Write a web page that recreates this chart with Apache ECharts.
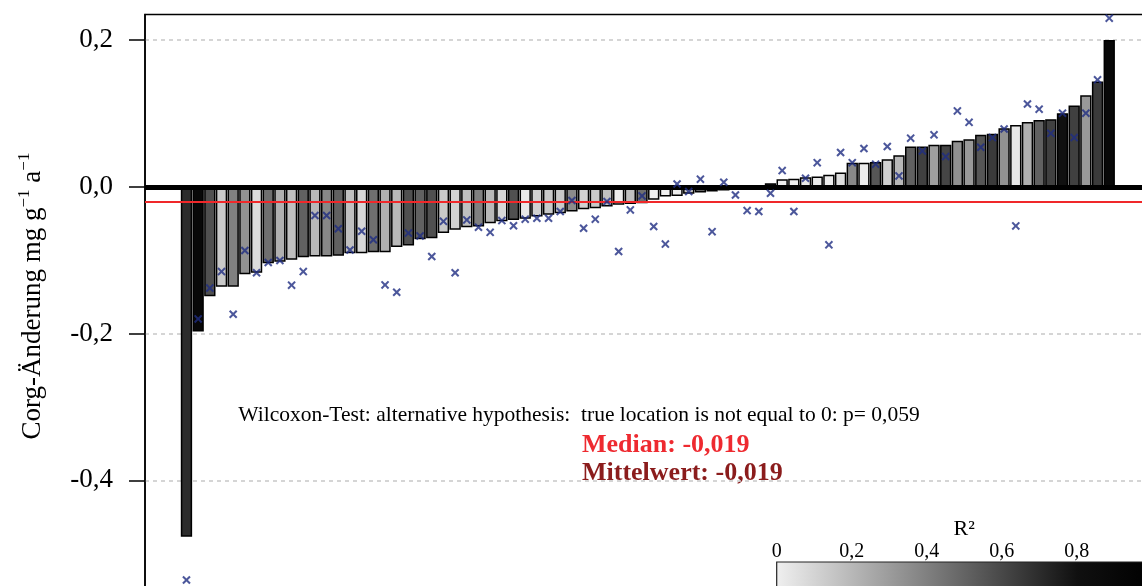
<!DOCTYPE html>
<html><head><meta charset="utf-8">
<script src="https://cdn.jsdelivr.net/npm/echarts@6/dist/echarts.min.js"></script>
<style>html,body{margin:0;padding:0;background:#fff}#c{width:1142px;height:586px}</style>
</head><body><div id="c"></div>
<script>
// Corg change per site (sorted), bars
const changeValues = [-0.477, -0.197, -0.149, -0.136, -0.136, -0.119, -0.117, -0.104, -0.102, -0.0995,
  -0.096, -0.095, -0.095, -0.094, -0.0905, -0.0905, -0.089, -0.089, -0.082, -0.080,
  -0.0713, -0.070, -0.063, -0.0586, -0.055, -0.054, -0.0495, -0.047, -0.045, -0.0436,
  -0.0405, -0.038, -0.0359, -0.0336, -0.0304, -0.029, -0.0268, -0.0245, -0.0235, -0.0222,
  -0.0177, -0.0132, -0.0123, -0.0095, -0.0077, -0.0064, -0.005, -0.0035, -0.0025, -0.0012,
  0.005, 0.0105, 0.011, 0.0132, 0.014, 0.0164, 0.0195, 0.033, 0.033, 0.034,
  0.0377, 0.0432, 0.055, 0.055, 0.0573, 0.0573, 0.063, 0.065, 0.0709, 0.0723,
  0.080, 0.0845, 0.0886, 0.0913, 0.0923, 0.1005, 0.111, 0.125, 0.1436, 0.2004];
// blue x markers
const markerValues = [-0.536, -0.180, -0.138, -0.1155, -0.1736, -0.0868, -0.117, -0.103, -0.1004, -0.134,
  -0.1155, -0.039, -0.039, -0.057, -0.086, -0.0604, -0.072, -0.1336, -0.1436, -0.063,
  -0.0668, -0.095, -0.047, -0.117, -0.045, -0.055, -0.062, -0.046, -0.053, -0.044,
  -0.0427, -0.0427, -0.0336, -0.0186, -0.0564, -0.044, -0.020, -0.088, -0.0314, -0.0123,
  -0.054, -0.078, 0.004, -0.0064, 0.0105, -0.061, 0.0064, -0.011, -0.0323, -0.0336,
  -0.0086, 0.0222, -0.0336, 0.0118, 0.033, -0.079, 0.0468, 0.033, 0.0523, 0.031,
  0.055, 0.015, 0.0664, 0.049, 0.0709, 0.0413, 0.1036, 0.088, 0.054, 0.0672,
  0.079, -0.0532, 0.113, 0.106, 0.073, 0.1005, 0.0672, 0.1005, 0.1459, 0.230];
// R² of each bar (fill shade)
const r2Values = [0.70, 0.90, 0.57, 0.14, 0.40, 0.34, 0.07, 0.46, 0.23, 0.17,
  0.51, 0.20, 0.37, 0.51, 0.17, 0.09, 0.46, 0.23, 0.20, 0.57,
  0.51, 0.57, 0.14, 0.11, 0.17, 0.40, 0.20, 0.09, 0.57, 0.03,
  0.11, 0.14, 0.14, 0.36, 0.11, 0.14, 0.17, 0.01, 0.17, 0.46,
  0.00, 0.00, 0.01, 0.17, 0.51, 0.63, 0.69, 0.69, 0.69, 0.75,
  0.71, 0.01, 0.01, 0.02, 0.02, 0.01, 0.06, 0.37, 0.01, 0.55,
  0.11, 0.20, 0.51, 0.63, 0.29, 0.61, 0.34, 0.31, 0.55, 0.65,
  0.34, 0.03, 0.23, 0.51, 0.63, 0.80, 0.63, 0.31, 0.65, 0.90];
const yTickValues = [-0.4, -0.2, 0, 0.2];
const colorbarTicks = [0, 0.2, 0.4, 0.6, 0.8, 1];
const medianValue = -0.019;
const meanValue = -0.019;
const pValueText = '0,059';
const grayStops = ['#f0f0f0', '#b8b8b8', '#808080', '#484848', '#101010', '#000000'];

const font = "'Liberation Serif','Times New Roman',serif";
const fmt1 = v => v.toFixed(1).replace('.', ',');
const fmt3 = v => v.toFixed(3).replace('.', ',');

const barData = changeValues.map((v, i) => [i, v, r2Values[i]]);
const markerData = markerValues.map((v, i) => [i, v]);

const chart = echarts.init(document.getElementById('c'), null, {renderer: 'canvas'});
const gradient = new echarts.graphic.LinearGradient(0, 0, 1, 0,
  grayStops.map((c, i) => ({offset: i / (grayStops.length - 1), color: c})));

const option = {
  backgroundColor: '#fff',
  animation: false,
  grid: [
    {left: 145, top: 14.5, width: 1005.7, height: 612.5, show: true, borderColor: '#000', borderWidth: 1.5,
      backgroundColor: 'transparent', outerBoundsMode: 'none', containLabel: false},
    {left: 776.7, top: 562, width: 375, height: 40, outerBoundsMode: 'none', containLabel: false}
  ],
  xAxis: [
    {type: 'value', gridIndex: 0, min: -3.55, max: 82.55, show: false, splitLine: {show: false}},
    {type: 'value', gridIndex: 1, min: colorbarTicks[0], max: colorbarTicks[colorbarTicks.length - 1], interval: 0.2,
      position: 'top', axisLine: {show: false}, axisTick: {show: false}, splitLine: {show: false},
      axisLabel: {formatter: v => (v % 1 === 0 ? String(v) : fmt1(v)), fontFamily: font, fontSize: 20, color: '#000', margin: 0},
      name: 'R²', nameLocation: 'middle', nameGap: 22,
      nameTextStyle: {fontFamily: font, fontSize: 22, color: '#000'}}
  ],
  yAxis: [
    {type: 'value', gridIndex: 0, min: -0.6, max: 0.235, interval: 0.2,
      axisLine: {show: true, onZero: false, lineStyle: {color: '#000', width: 1.5}},
      axisTick: {show: true, length: 16, lineStyle: {color: '#000', width: 1.5}, customValues: yTickValues},
      axisLabel: {customValues: yTickValues, formatter: fmt1, fontFamily: font, fontSize: 27, color: '#000', margin: 32},
      splitLine: {show: true, lineStyle: {color: '#c8c8c8', type: [4, 4], width: 1.5}}},
    {type: 'value', gridIndex: 1, min: 0, max: 1, show: false}
  ],
  visualMap: {type: 'continuous', show: false, seriesIndex: 0, dimension: 2, min: 0, max: 1, inRange: {color: grayStops}},
  series: [
    {type: 'bar', xAxisIndex: 0, yAxisIndex: 0, data: barData, encode: {x: 0, y: 1},
      barCategoryGap: '3%', itemStyle: {borderColor: '#000', borderWidth: 1.5}, z: 2,
      markLine: {silent: true, symbol: 'none', label: {show: false}, z: 3,
        data: [
          {yAxis: 0, lineStyle: {color: '#000', width: 5, type: 'solid'}},
          {yAxis: medianValue, lineStyle: {color: '#f0282a', width: 2, type: 'solid'}}
        ]}},
    {type: 'scatter', xAxisIndex: 0, yAxisIndex: 0, data: markerData, z: 5,
      symbol: 'path://M0 1.7L1.7 0L5 3.3L8.3 0L10 1.7L6.7 5L10 8.3L8.3 10L5 6.7L1.7 10L0 8.3L3.3 5Z', symbolSize: 8.5,
      itemStyle: {color: '#1f2d82'}},
    {type: 'custom', xAxisIndex: 1, yAxisIndex: 1, data: [[colorbarTicks[0], colorbarTicks[colorbarTicks.length - 1]]],
      renderItem: (params, api) => {
        const p0 = api.coord([api.value(0), 1]);
        const p1 = api.coord([api.value(1), 0]);
        return {type: 'rect', shape: {x: p0[0], y: p0[1], width: p1[0] - p0[0], height: p1[1] - p0[1]},
          style: {fill: gradient, stroke: '#222', lineWidth: 1.2}};
      }}
  ],
  graphic: [
    {type: 'text', x: 33, y: 296, rotation: Math.PI / 2,
      style: {text: '{n|Corg-Änderung mg g}{s|−1}{n| a}{s|−1}', align: 'center', verticalAlign: 'middle',
        textAlign: 'center', textVerticalAlign: 'middle',
        rich: {n: {fontFamily: font, fontSize: 27, lineHeight: 34, fill: '#000'},
               s: {fontFamily: font, fontSize: 17, lineHeight: 17, verticalAlign: 'top', fill: '#000'}}}},
    {type: 'text', x: 579, y: 415,
      style: {text: 'Wilcoxon-Test: alternative hypothesis:  true location is not equal to 0: p= ' + pValueText,
        fontFamily: font, fontSize: 21.5, fill: '#000', align: 'center', verticalAlign: 'middle', textAlign: 'center', textVerticalAlign: 'middle'}},
    {type: 'text', x: 582, y: 445,
      style: {text: 'Median: ' + fmt3(medianValue), fontFamily: font, fontSize: 26, fontWeight: 'bold', fill: '#ee2a30',
        align: 'left', verticalAlign: 'middle', textAlign: 'left', textVerticalAlign: 'middle'}},
    {type: 'text', x: 582, y: 473,
      style: {text: 'Mittelwert: ' + fmt3(meanValue), fontFamily: font, fontSize: 26, fontWeight: 'bold', fill: '#8b1c1c',
        align: 'left', verticalAlign: 'middle', textAlign: 'left', textVerticalAlign: 'middle'}}
  ]
};
chart.setOption(option);
</script>
</body></html>
